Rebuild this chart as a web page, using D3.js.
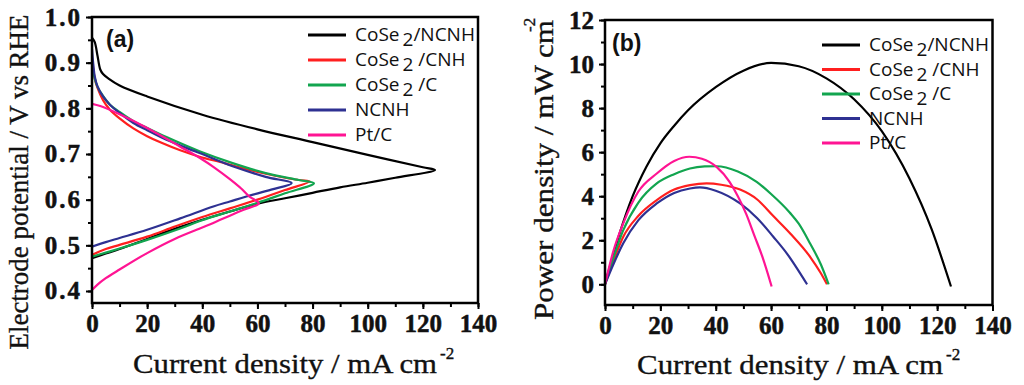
<!DOCTYPE html>
<html><head><meta charset="utf-8">
<script src="https://cdn.jsdelivr.net/npm/d3@7"></script>
<style>
body{margin:0;background:#fff}svg{display:block}
.serif{font-family:"Liberation Serif","Times New Roman",Times,serif}
.sans{font-family:"Open Sans","Liberation Sans",Arial,sans-serif}
.arial{font-family:"Liberation Sans",Arial,sans-serif}
.tk{font-family:"Liberation Serif","Times New Roman",Times,serif;font-weight:700;font-size:25px}
</style>
</head><body><svg id="c" width="1024" height="385"></svg>
<script>
// ---------- data ----------
const seriesNames = ["CoSe2/NCNH", "CoSe2 /CNH", "CoSe2 /C", "NCNH", "Pt/C"];
const legendMain = ["CoSe", "CoSe", "CoSe", "NCNH", "Pt/C"];
const legendSub = ["2", "2", "2", "", ""];
const legendTail = ["/NCNH", " /CNH", " /C", "", ""];
const colors = ["#000000", "#ff1f1f", "#12a54f", "#2e3192", "#ff1493"];

const xTicks = [0, 20, 40, 60, 80, 100, 120, 140];
const yTicksA = [0.4, 0.5, 0.6, 0.7, 0.8, 0.9, 1.0];
const yTicksB = [0, 2, 4, 6, 8, 10, 12];

// (a) polarization: [current density, potential]
const polCoSe2NCNH = [[0,0.955],[1,0.945],[2,0.915],[3,0.885],[4,0.875],[6,0.865],[10,0.85],[20,0.826],[40,0.786],[60,0.754],[80,0.726],[100,0.698],[120,0.671],[124.4,0.665],[110,0.648],[100,0.637],[90,0.627],[80,0.615],[70,0.603],[60,0.591],[50,0.574],[40,0.556],[30,0.536],[20,0.514],[10,0.492],[5,0.482],[0,0.472]];
const polCoSe2CNH = [[0,0.91],[0.5,0.885],[1,0.865],[2,0.845],[4,0.818],[6.5,0.797],[10,0.778],[15,0.756],[20,0.739],[25,0.725],[32,0.708],[39,0.694],[48,0.68],[57,0.665],[66,0.653],[75,0.643],[79,0.64],[70,0.621],[60,0.6],[50,0.581],[40,0.562],[30,0.541],[20,0.519],[10,0.501],[5,0.492],[0,0.479]];
const polCoSe2C = [[0,0.9],[0.5,0.88],[1,0.865],[2,0.847],[4,0.827],[6.5,0.808],[10,0.792],[15,0.772],[20,0.757],[27,0.737],[39,0.706],[51,0.68],[63,0.658],[75,0.643],[80.5,0.636],[70,0.614],[60,0.593],[50,0.574],[40,0.555],[32,0.537],[20,0.512],[10,0.493],[5,0.484],[0,0.475]];
const polNCNH = [[0,0.93],[0.5,0.895],[1,0.87],[2,0.848],[4,0.826],[6.5,0.808],[10,0.79],[15,0.768],[20,0.752],[27,0.731],[39,0.702],[51,0.673],[63,0.65],[72.4,0.636],[65,0.622],[56,0.607],[50,0.596],[44,0.585],[32,0.559],[20,0.534],[10,0.516],[5,0.507],[0,0.497]];
const polPtC = [[0,0.81],[3,0.805],[10,0.787],[20,0.757],[32,0.716],[40,0.688],[44,0.672],[50,0.645],[54,0.625],[57,0.607],[60.5,0.592],[55,0.578],[50,0.565],[44,0.549],[40,0.539],[30,0.514],[20,0.483],[10,0.447],[5,0.428],[2,0.414],[0,0.402]];

// (b) power density: [current density, power density]
const powCoSe2NCNH = [[0,0],[5,2.2],[10,4.0],[15,5.35],[20,6.4],[25,7.2],[30,7.9],[40,8.95],[50,9.7],[60,10.05],[70,9.9],[80,9.35],[90,8.4],[100,6.95],[110,4.8],[118,2.5],[125,-0.1]];
const powCoSe2CNH = [[0,0],[3,1.05],[6.6,2.16],[12,3.1],[18.7,3.82],[25,4.3],[30.7,4.5],[36.7,4.58],[42,4.52],[48.8,4.3],[55,3.85],[60.8,3.1],[67,2.3],[74.1,1.25],[78,0.5],[80.2,0]];
const powCoSe2C = [[0,0],[3,1.2],[6.6,2.46],[12,3.7],[18.7,4.58],[25,5.0],[30.7,5.26],[36,5.35],[40.3,5.36],[48,5.12],[54.8,4.65],[60,4.1],[66.8,3.25],[70,2.75],[74.1,1.85],[78,0.9],[80.8,0]];
const powNCNH = [[0,0],[3,0.9],[6.6,1.86],[12,2.9],[18.7,3.67],[25,4.15],[30.7,4.35],[34.3,4.4],[40,4.25],[48.8,3.67],[55,3.0],[60.8,2.16],[66,1.35],[70,0.6],[73,0]];
const powPtC = [[0,0],[3,1.5],[6.6,2.77],[12,4.2],[18.7,5.03],[25,5.6],[30.5,5.79],[35,5.7],[40.3,5.33],[45,4.65],[48,4.0],[51,3.2],[54,2.2],[57,1.2],[60.2,-0.1]];

const polSeries = [polCoSe2NCNH, polCoSe2CNH, polCoSe2C, polNCNH, polPtC];
const powSeries = [powCoSe2NCNH, powCoSe2CNH, powCoSe2C, powNCNH, powPtC];

// ---------- drawing ----------
const svg = d3.select("#c");

function panel(cfg) {
  const x = d3.scaleLinear().domain([0, 140]).range([cfg.x0, cfg.x1]);
  const y = d3.scaleLinear().domain(cfg.yDomain).range([cfg.y1, cfg.y0]);
  const g = svg.append("g");

  const clipId = "clip" + cfg.id;
  svg.append("clipPath").attr("id", clipId).append("rect")
    .attr("x", cfg.x0).attr("y", cfg.y0).attr("width", cfg.x1 - cfg.x0).attr("height", cfg.y1 - cfg.y0);
  const line = d3.line().x(d => x(d[0])).y(d => y(d[1])).curve(cfg.curve);
  const cg = g.append("g").attr("clip-path", `url(#${clipId})`);
  cfg.series.forEach((s, i) => {
    cg.append("path").attr("d", line(s)).attr("fill", "none")
      .attr("stroke", colors[i]).attr("stroke-width", 2.2).attr("stroke-linejoin", "round");
  });

  const xMinor = d3.axisBottom(x).tickValues(d3.range(0, 141, 10)).tickSize(4).tickFormat("").tickSizeOuter(0);
  const yMinor = d3.axisLeft(y).tickValues(cfg.yMinor).tickSize(4).tickFormat("").tickSizeOuter(0);
  const xAxis = d3.axisBottom(x).tickValues(xTicks).tickSize(6).tickPadding(5).tickSizeOuter(0);
  const yAxis = d3.axisLeft(y).tickValues(cfg.yTicks).tickSize(6).tickPadding(cfg.yPad).tickSizeOuter(0).tickFormat(cfg.yFmt);

  const axG = [];
  [xMinor, xAxis].forEach(a => axG.push(g.append("g").attr("class", "xa").attr("transform", `translate(0,${cfg.y1})`).call(a)));
  [yMinor, yAxis].forEach(a => axG.push(g.append("g").attr("class", "ya").attr("transform", `translate(${cfg.x0},0)`).call(a)));
  axG.forEach(a => a.attr("font-family", null).attr("font-size", null));
  g.selectAll(".domain").remove();
  g.selectAll(".tick line").attr("stroke", "#000").attr("stroke-width", 2);
  g.selectAll(".tick text").attr("class", "tk")
    .attr("fill", "#111").attr("stroke", "#111").attr("stroke-width", 0.5);
  g.selectAll(".ya .tick text").attr("letter-spacing", cfg.yLS);

  g.append("rect").attr("x", cfg.x0).attr("y", cfg.y0)
    .attr("width", cfg.x1 - cfg.x0).attr("height", cfg.y1 - cfg.y0)
    .attr("fill", "none").attr("stroke", "#000").attr("stroke-width", 2.5);

  g.append("text").attr("class", "arial").attr("x", cfg.labX).attr("y", cfg.labY).text(cfg.label)
    .attr("font-weight", "bold").attr("font-size", 23).attr("fill", "#111");

  const lg = g.append("g");
  seriesNames.forEach((n, i) => {
    const cy = cfg.legY + i * cfg.legStep;
    lg.append("line").attr("x1", cfg.legX).attr("x2", cfg.legX + 38)
      .attr("y1", cy).attr("y2", cy).attr("stroke", colors[i]).attr("stroke-width", 3);
    const t = lg.append("text").attr("class", "sans").attr("x", cfg.legX + 47).attr("y", cy + 6)
      .attr("font-size", 19).attr("fill", "#111");
    t.append("tspan").text(legendMain[i]);
    if (legendSub[i]) {
      t.append("tspan").attr("dx", 3).attr("dy", 5).text(legendSub[i]);
      t.append("tspan").attr("dy", -5).text(legendTail[i].replace(" ", "\u00a0"));
    }
  });

  const titleStyle = sel => sel.attr("class", "serif").attr("fill", "#111")
    .attr("stroke", "#111").attr("stroke-width", 0.35);

  g.append("text").call(titleStyle).attr("x", cfg.xtX).attr("y", cfg.xtY).attr("text-anchor", "middle")
    .attr("font-size", 27)
    .attr("textLength", cfg.xtLen).attr("lengthAdjust", "spacingAndGlyphs")
    .text("Current density / mA cm");
  g.append("text").call(titleStyle).attr("x", cfg.xtX + cfg.xtLen / 2 + 3).attr("y", cfg.xtY - 14)
    .attr("font-size", 17).text("-2");

  g.append("text").call(titleStyle).attr("transform", `translate(${cfg.ytX},${cfg.ytY}) rotate(-90)`)
    .attr("text-anchor", "middle").attr("font-size", 27)
    .attr("textLength", cfg.ytLen).attr("lengthAdjust", "spacingAndGlyphs")
    .text(cfg.yTitle);
  if (cfg.ySup) {
    g.append("text").call(titleStyle).attr("transform", `translate(${cfg.ytX - 18},${cfg.ytY - cfg.ytLen / 2 + 12}) rotate(-90)`)
      .attr("font-size", 17).text(cfg.ySup);
  }
}

panel({
  id: "a", x0: 92, x1: 478, y0: 17, y1: 303, yDomain: [0.3737, 1.0],
  yTicks: yTicksA, yMinor: d3.range(0.4, 1.001, 0.05), yFmt: d3.format(".1f"), yPad: 4, yLS: 2,
  series: polSeries, curve: d3.curveCatmullRom.alpha(0.5), label: "(a)", labX: 106, labY: 47,
  legX: 308, legY: 35, legStep: 25,
  xtX: 285, xtY: 373, xtLen: 304,
  ytX: 28, ytY: 182, ytLen: 335, yTitle: "Electrode potential / V vs RHE", ySup: null
});

panel({
  id: "b", x0: 605, x1: 992.5, y0: 20, y1: 305, yDomain: [-0.94, 12],
  yTicks: yTicksB, yMinor: d3.range(0, 12.01, 1), yFmt: d3.format("d"), yPad: 5, yLS: 0,
  series: powSeries, curve: d3.curveMonotoneX, label: "(b)", labX: 612, labY: 51,
  legX: 822, legY: 45, legStep: 24.5,
  xtX: 790, xtY: 374, xtLen: 306,
  ytX: 553, ytY: 170, ytLen: 300, yTitle: "Power density / mW cm", ySup: "-2"
});
</script></body></html>
